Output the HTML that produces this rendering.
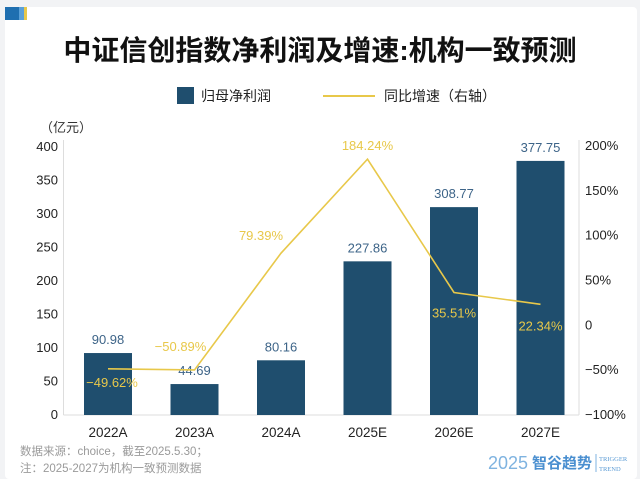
<!DOCTYPE html>
<html><head><meta charset="utf-8">
<style>
html,body{margin:0;padding:0;background:#f2f3f5;}
body{width:640px;height:479px;overflow:hidden;position:relative;font-family:"Liberation Sans","Noto Sans CJK SC",sans-serif;}
#card{position:absolute;left:5px;top:7px;width:632px;height:472px;background:#fff;border-radius:4px;}
svg{position:absolute;left:0;top:0;}
</style></head>
<body>
<div id="card"></div>
<svg id="chart" width="640" height="479">
  <rect x="5" y="7" width="14" height="13" fill="#1f6fb0"/>
  <rect x="19" y="7" width="5" height="13" fill="#5aa0d8"/>
  <rect x="24" y="7" width="3" height="13" fill="#e8c84a"/>
  <text x="320" y="60" text-anchor="middle" font-size="28" font-weight="bold" fill="#111">中证信创指数净利润及增速:机构一致预测</text>
  <rect x="177" y="87" width="17" height="17" fill="#1f4e6e"/>
  <text x="201" y="101" font-size="14" fill="#222">归母净利润</text>
  <line x1="323" y1="96" x2="375" y2="96" stroke="#e8c84a" stroke-width="2"/>
  <text x="384" y="101" font-size="14" fill="#222">同比增速（右轴）</text>
  <text x="40" y="132" font-size="13" fill="#333">（亿元）</text>
  <line x1="63.5" y1="140" x2="63.5" y2="415" stroke="#ddd"/>
  <line x1="579" y1="140" x2="579" y2="415" stroke="#ddd"/>
  <line x1="63.5" y1="415" x2="579" y2="415" stroke="#ddd"/>
  <g id="marks"></g>
  <text x="20" y="455" font-size="11.5" fill="#9a9a9a">数据来源：choice，截至2025.5.30；</text>
  <text x="20" y="472" font-size="11.5" fill="#9a9a9a">注：2025-2027为机构一致预测数据</text>
  <text x="488" y="469" font-size="18" fill="#7fb3e0">2025</text>
  <text x="532" y="468" font-size="15" font-weight="bold" fill="#4a8fd0">智谷趋势</text>
  <line x1="596" y1="454" x2="596" y2="472" stroke="#7fb3e0"/>
  <text x="599" y="461" font-size="6.5" fill="#5a9bd5" font-family="Liberation Serif,serif">TRIGGER</text>
  <text x="599" y="471" font-size="6.5" fill="#5a9bd5" font-family="Liberation Serif,serif">TREND</text>
</svg>
<script>
const categories = ["2022A","2023A","2024A","2025E","2026E","2027E"];
const profitValues = [90.98,44.69,80.16,227.86,308.77,377.75];
const growthValues = [-49.62,-50.89,79.39,184.24,35.51,22.34];
const leftTicks = [0,50,100,150,200,250,300,350,400];
const rightTicks = [-100,-50,0,50,100,150,200];
const growthLabelOffsets = [[4,13],[-14,-24],[-20,-18],[0,-14],[0,20],[0,21]];

const NS="http://www.w3.org/2000/svg";
const g=document.getElementById('marks');
const yL=v=>414-(v/400)*268;
const yR=v=>414-((v+100)/300)*269;
const xC=i=>108+i*86.5;
function mk(tag,attrs){const e=document.createElementNS(NS,tag);for(const k in attrs)e.setAttribute(k,attrs[k]);g.appendChild(e);return e;}

leftTicks.forEach(t=>{
  const e=mk('text',{x:58,y:yL(t)+5,'text-anchor':'end','font-size':13,fill:'#222'});
  e.textContent=t;
  
  
});
rightTicks.forEach(t=>{
  const e=mk('text',{x:585,y:yR(t)+5,'font-size':13,fill:'#222'});
  e.textContent=(t<0?'−'+(-t):t)+(t===0?'':'%');
  
  
});
categories.forEach((c,i)=>{
  const v=profitValues[i];
  const b=mk('rect',{x:xC(i)-24,y:yL(v),width:48,height:yL(0)-yL(v)+1,fill:'#1f4e6e'});
  
  
  const l=mk('text',{x:xC(i),y:yL(v)-9,'text-anchor':'middle','font-size':13,fill:'#3d6488'});
  l.textContent=v.toFixed(2);
  
  
  const x=mk('text',{x:xC(i),y:437,'text-anchor':'middle','font-size':13.5,fill:'#222'});
  x.textContent=c;
  
  
});
const pts=growthValues.map((v,i)=>xC(i)+','+yR(v)).join(' ');
const pl=mk('polyline',{points:pts,fill:'none',stroke:'#e8c84a','stroke-width':1.6});


growthValues.forEach((v,i)=>{
  const o=growthLabelOffsets[i];
  const t=mk('text',{x:xC(i)+o[0],y:yR(v)+o[1]+5,'text-anchor':'middle','font-size':13,fill:'#e8c84a'});
  t.textContent=(v<0?'−'+(-v).toFixed(2):v.toFixed(2))+'%';
  
  
});
</script>
</body></html>
